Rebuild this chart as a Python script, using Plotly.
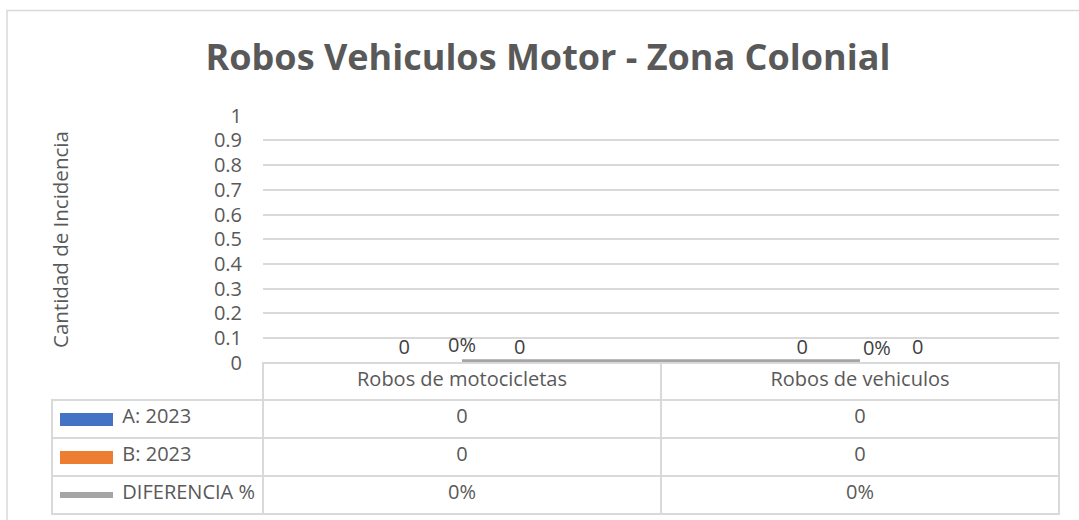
import plotly.graph_objects as go

# ---------------- data ----------------
categories = ["Robos de motocicletas", "Robos de vehiculos"]
series_names = ["A: 2023", "B: 2023", "DIFERENCIA %"]
serie_a = [0, 0]
serie_b = [0, 0]
diferencia = [0.0, 0.0]
title_text = "Robos Vehiculos Motor - Zona Colonial"
y_title = "Cantidad de Incidencia"

# ---------------- style ----------------
W, H = 1079, 520
BLUE, ORANGE, GRAY = "#4472C4", "#ED7D31", "#A5A5A5"
TXT = "#595959"
LBL = "#404040"
BORDER = "#D9D9D9"
FONT = "Open Sans"
FS = 20
NBSP = "\u00a0"


def fx(px):
    return px / W


def fy(py):
    return 1 - py / H


fmt_num = lambda v: f"{v:g}"
fmt_pct = lambda v: f"{v:.0%}"

fig = go.Figure()

fig.add_trace(go.Bar(
    x=categories, y=serie_a, name=series_names[0], marker_color=BLUE,
    text=[fmt_num(v) for v in serie_a], textposition="outside",
    textfont=dict(family=FONT, size=FS, color=LBL), cliponaxis=False,
))
fig.add_trace(go.Bar(
    x=categories, y=serie_b, name=series_names[1], marker_color=ORANGE,
    text=[fmt_num(v) for v in serie_b], textposition="outside",
    textfont=dict(family=FONT, size=FS, color=LBL), cliponaxis=False,
))
fig.add_trace(go.Scatter(
    x=categories, y=diferencia, name=series_names[2], mode="lines+markers+text",
    line=dict(color=GRAY, width=7),
    marker=dict(size=[8, 3], color=GRAY, opacity=0),
    text=[fmt_pct(v) for v in diferencia],
    textposition=["top center", "top right"],
    textfont=dict(family=FONT, size=FS, color=LBL), cliponaxis=False,
))

# data table under the plot
pad = NBSP * 12
legend_col = [pad + n.replace(" ", NBSP) for n in series_names]
cat_cols = [
    [fmt_num(serie_a[i]), fmt_num(serie_b[i]), fmt_pct(diferencia[i])]
    for i in range(len(categories))
]
fig.add_trace(go.Table(
    domain=dict(x=[fx(52), fx(1060)], y=[fy(516), fy(363)]),
    columnwidth=[211, 398, 398],
    header=dict(
        values=[""] + categories, height=37,
        fill_color=["rgba(0,0,0,0)", "white", "white"],
        line=dict(color=["rgba(0,0,0,0)", BORDER, BORDER], width=[0, 1.5, 1.5]),
        font=dict(family=FONT, size=FS, color=TXT), align="center",
    ),
    cells=dict(
        values=[legend_col] + cat_cols, height=38,
        fill_color="white",
        line=dict(color=BORDER, width=1.5),
        font=dict(family=FONT, size=FS, color=TXT),
        align=["left", "center", "center"],
    ),
))

shapes = [
    # chart frame (top and left edges visible)
    dict(type="rect", xref="paper", yref="paper", x0=fx(7), x1=fx(1200),
         y0=fy(700), y1=fy(10.5), line=dict(color=BORDER, width=1.5),
         fillcolor="rgba(0,0,0,0)", layer="below"),
    # legend keys inside the data table
    dict(type="rect", xref="paper", yref="paper", x0=fx(60), x1=fx(113),
         y0=fy(426), y1=fy(413), line=dict(width=0), fillcolor=BLUE),
    dict(type="rect", xref="paper", yref="paper", x0=fx(60), x1=fx(113),
         y0=fy(464), y1=fy(451), line=dict(width=0), fillcolor=ORANGE),
    dict(type="line", xref="paper", yref="paper", x0=fx(60), x1=fx(113),
         y0=fy(495), y1=fy(495), line=dict(color=GRAY, width=6)),
]

fig.update_layout(
    width=W, height=H,
    margin=dict(l=0, r=0, t=0, b=0, autoexpand=False),
    paper_bgcolor="white", plot_bgcolor="white",
    showlegend=False,
    barmode="group", bargap=0.42, bargroupgap=0,
    font=dict(family=FONT, size=FS, color=TXT),
    title=dict(text=title_text, x=fx(548), y=fy(57), xanchor="center",
               yanchor="middle",
               font=dict(family=FONT, size=36, color=TXT, weight="bold")),
    xaxis=dict(domain=[fx(263), fx(1059)], showticklabels=False,
               showgrid=False, zeroline=False, showline=False,
               automargin=False, range=[-0.5, 1.5]),
    yaxis=dict(domain=[fy(362.7), fy(115.7)], range=[0, 1], dtick=0.1,
               showgrid=True, gridcolor=BORDER, gridwidth=1.5,
               zeroline=True, zerolinecolor=BORDER, zerolinewidth=1.5,
               showline=False, ticks="", ticklabelstandoff=20,
               automargin=False,
               tickfont=dict(family=FONT, size=FS, color=TXT)),
    shapes=shapes,
    annotations=[dict(text=y_title, xref="paper", yref="paper",
                      x=fx(60), y=fy(240), textangle=-90, showarrow=False,
                      xanchor="center", yanchor="middle",
                      font=dict(family=FONT, size=20.5, color=TXT))],
)

fig.write_html("out.html", config={"displayModeBar": False},
               post_script="document.body.style.margin='0';")
